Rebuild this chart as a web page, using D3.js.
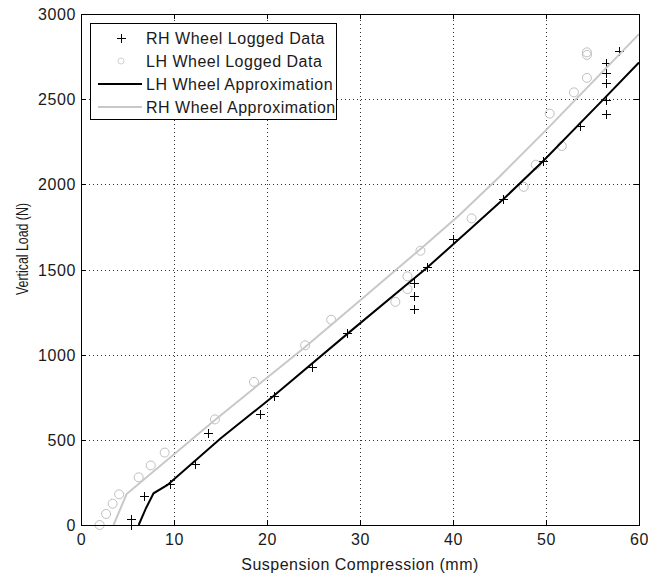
<!DOCTYPE html>
<html>
<head>
<meta charset="utf-8">
<script src="https://cdn.jsdelivr.net/npm/d3@7"></script>
<style>
	body { margin: 0; background: #fff; }
	svg { display: block; font-family: "Liberation Sans", Arial, sans-serif; }
	.tick-label { font-size: 16px; letter-spacing: 0.6px; fill: #1a1a1a; }
	.axis-title { font-size: 16px; letter-spacing: 0.5px; fill: #1a1a1a; }
	.legend-text { font-size: 16px; letter-spacing: 0.5px; fill: #1a1a1a; }
</style>
</head>
<body>
<div id="chart"></div>
<script>
// tick values
var xTicks = [0, 10, 20, 30, 40, 50, 60];
var yTicks = [0, 500, 1000, 1500, 2000, 2500, 3000];

// RH wheel logged data (+ markers)
var rhLoggedX = [5.4, 5.4, 6.8, 9.6, 12.3, 13.7, 19.2, 20.7, 24.8, 28.6, 35.8, 35.8, 35.8, 37.2, 40.0, 45.4, 49.7, 53.7, 56.4, 56.4, 56.4, 56.4, 56.4, 57.8];
var rhLoggedY = [0, 35, 170, 240, 360, 540, 650, 760, 930, 1125, 1270, 1345, 1420, 1515, 1680, 1915, 2135, 2340, 2415, 2495, 2595, 2655, 2715, 2780];

// LH wheel logged data (o markers)
var lhLoggedX = [2.0, 2.7, 3.4, 4.1, 6.2, 7.5, 9.0, 14.4, 18.6, 24.1, 26.9, 33.8, 35.1, 35.1, 36.5, 42.0, 47.6, 48.9, 51.7, 50.4, 53.0, 54.4, 54.4, 54.4];
var lhLoggedY = [0, 65, 125, 180, 280, 350, 425, 620, 840, 1055, 1205, 1310, 1385, 1460, 1610, 1800, 1985, 2115, 2225, 2415, 2540, 2625, 2760, 2775];

// approximation curves
var lhApproxX = [6.2, 7.0, 7.8, 9.3, 15.0, 20.7, 28.7, 37.2, 41.8, 45.4, 49.7, 56.2, 60];
var lhApproxY = [0, 100, 186, 235, 508, 757, 1125, 1510, 1735, 1912, 2137, 2500, 2715];
var rhApproxX = [3.5, 4.9, 14.4, 24.1, 30, 36.45, 40.75, 45, 50, 55, 60];
var rhApproxY = [0, 182, 617, 1045, 1318, 1618, 1823, 2045, 2318, 2600, 2882];

var legendLabels = ['RH Wheel Logged Data', 'LH Wheel Logged Data', 'LH Wheel Approximation', 'RH Wheel Approximation'];

// canvas size
var width = 648, height = 573;
var plot = { left: 81, right: 639, top: 14, bottom: 525 };
var tickLen = 5;
var grayLine = '#c8c8c8', grayMarker = '#bfbfbf';

var x = d3.scaleLinear().domain([0, 60]).range([plot.left, plot.right]);
var y = d3.scaleLinear().domain([0, 3000]).range([plot.bottom, plot.top]);

var svg = d3.select('#chart').append('svg')
	.attr('width', width)
	.attr('height', height);

svg.append('rect').attr('width', width).attr('height', height).attr('fill', '#fff');

// zip two arrays into points
function pts(xs, ys) {
	return xs.map(function (d, i) { return [d, ys[i]]; });
}

// dotted grid
function drawGrid() {
	var g = svg.append('g')
		.attr('stroke', '#333')
		.attr('stroke-width', 1)
		.attr('stroke-dasharray', '1,3')
		.attr('shape-rendering', 'crispEdges');
	g.selectAll('.vgrid').data(xTicks.slice(1, -1)).enter().append('line')
		.attr('x1', function (d) { return Math.round(x(d)) + 0.5; })
		.attr('x2', function (d) { return Math.round(x(d)) + 0.5; })
		.attr('y1', plot.bottom).attr('y2', plot.top);
	g.selectAll('.hgrid').data(yTicks.slice(1, -1)).enter().append('line')
		.attr('y1', function (d) { return Math.round(y(d)) + 0.5; })
		.attr('y2', function (d) { return Math.round(y(d)) + 0.5; })
		.attr('x1', plot.left).attr('x2', plot.right);
}

// box, inward ticks on all sides, labels
function drawAxes() {
	var g = svg.append('g').attr('shape-rendering', 'crispEdges');
	g.append('rect')
		.attr('x', plot.left + 0.5).attr('y', plot.top + 0.5)
		.attr('width', plot.right - plot.left).attr('height', plot.bottom - plot.top)
		.attr('fill', 'none').attr('stroke', '#000');

	var ax = d3.axisBottom(x).tickValues(xTicks).tickSize(0).tickFormat(d3.format('d'));
	var xg = svg.append('g').attr('transform', 'translate(0,' + plot.bottom + ')').call(ax);
	xg.select('.domain').remove();
	xg.selectAll('text').attr('class', 'tick-label').attr('dy', null).attr('y', 20).attr('fill', null);

	var ay = d3.axisLeft(y).tickValues(yTicks).tickSize(0).tickFormat(d3.format('d'));
	var yg = svg.append('g').attr('transform', 'translate(' + (plot.left - 5) + ',0)').call(ay);
	yg.select('.domain').remove();
	yg.selectAll('text').attr('class', 'tick-label').attr('x', 0).attr('dy', '0.35em').attr('fill', null);

	// tick marks
	xTicks.forEach(function (d) {
		var px = Math.round(x(d)) + 0.5;
		g.append('line').attr('x1', px).attr('x2', px).attr('y1', plot.bottom).attr('y2', plot.bottom - tickLen).attr('stroke', '#000');
		g.append('line').attr('x1', px).attr('x2', px).attr('y1', plot.top).attr('y2', plot.top + tickLen).attr('stroke', '#000');
	});
	yTicks.forEach(function (d) {
		var py = Math.round(y(d)) + 0.5;
		g.append('line').attr('y1', py).attr('y2', py).attr('x1', plot.left).attr('x2', plot.left + tickLen).attr('stroke', '#000');
		g.append('line').attr('y1', py).attr('y2', py).attr('x1', plot.right).attr('x2', plot.right - tickLen).attr('stroke', '#000');
	});

	svg.append('text').attr('class', 'axis-title')
		.attr('x', (plot.left + plot.right) / 2).attr('y', 570)
		.attr('text-anchor', 'middle')
		.text('Suspension Compression (mm)');
	// rotated label is rendered condensed in the original
	svg.append('text')
		.attr('transform', 'translate(28,249) rotate(-90)')
		.attr('text-anchor', 'middle')
		.attr('textLength', 92).attr('lengthAdjust', 'spacingAndGlyphs')
		.style('font-size', '16px').attr('fill', '#1a1a1a')
		.text('Vertical Load (N)');
}

function crossPath(cx, cy, s) {
	return 'M' + (cx - s) + ',' + cy + 'H' + (cx + s) + 'M' + cx + ',' + (cy - s) + 'V' + (cy + s);
}

function drawSeries() {
	var g = svg.append('g');
	g.selectAll('.rh').data(pts(rhLoggedX, rhLoggedY)).enter().append('path')
		.attr('d', function (d) { return crossPath(Math.round(x(d[0])) + 0.5, Math.round(y(d[1])) + 0.5, 4.5); })
		.attr('stroke', '#000').attr('stroke-width', 1).attr('fill', 'none');

	g.selectAll('.lh').data(pts(lhLoggedX, lhLoggedY)).enter().append('circle')
		.attr('cx', function (d) { return x(d[0]); })
		.attr('cy', function (d) { return y(d[1]); })
		.attr('r', 4.5)
		.attr('fill', 'none').attr('stroke', grayMarker).attr('stroke-width', 1);

	var line = d3.line().x(function (d) { return x(d[0]); }).y(function (d) { return y(d[1]); });
	g.append('path').datum(pts(lhApproxX, lhApproxY))
		.attr('d', line).attr('fill', 'none').attr('stroke', '#000').attr('stroke-width', 2);
	g.append('path').datum(pts(rhApproxX, rhApproxY))
		.attr('d', line).attr('fill', 'none').attr('stroke', grayLine).attr('stroke-width', 2);
}

function drawLegend() {
	var g = svg.append('g');
	g.append('rect').attr('x', 90.5).attr('y', 23.5).attr('width', 246).attr('height', 96)
		.attr('fill', '#fff').attr('stroke', '#000').attr('shape-rendering', 'crispEdges');
	var rows = [38, 61, 84, 107];
	legendLabels.forEach(function (label, i) {
		g.append('text').attr('class', 'legend-text')
			.attr('x', 146).attr('y', rows[i]).attr('dy', '0.35em').text(label);
	});
	g.append('path').attr('d', crossPath(121.5, rows[0] + 0.5, 4.5)).attr('stroke', '#000').attr('fill', 'none');
	g.append('circle').attr('cx', 121).attr('cy', rows[1]).attr('r', 3).attr('fill', 'none').attr('stroke', '#d0d0d0');
	g.append('line').attr('x1', 98).attr('x2', 142).attr('y1', rows[2]).attr('y2', rows[2]).attr('stroke', '#000').attr('stroke-width', 2);
	g.append('line').attr('x1', 98).attr('x2', 142).attr('y1', rows[3]).attr('y2', rows[3]).attr('stroke', grayLine).attr('stroke-width', 2);
}

drawGrid();
drawSeries();
drawAxes();
drawLegend();
</script>
</body>
</html>
